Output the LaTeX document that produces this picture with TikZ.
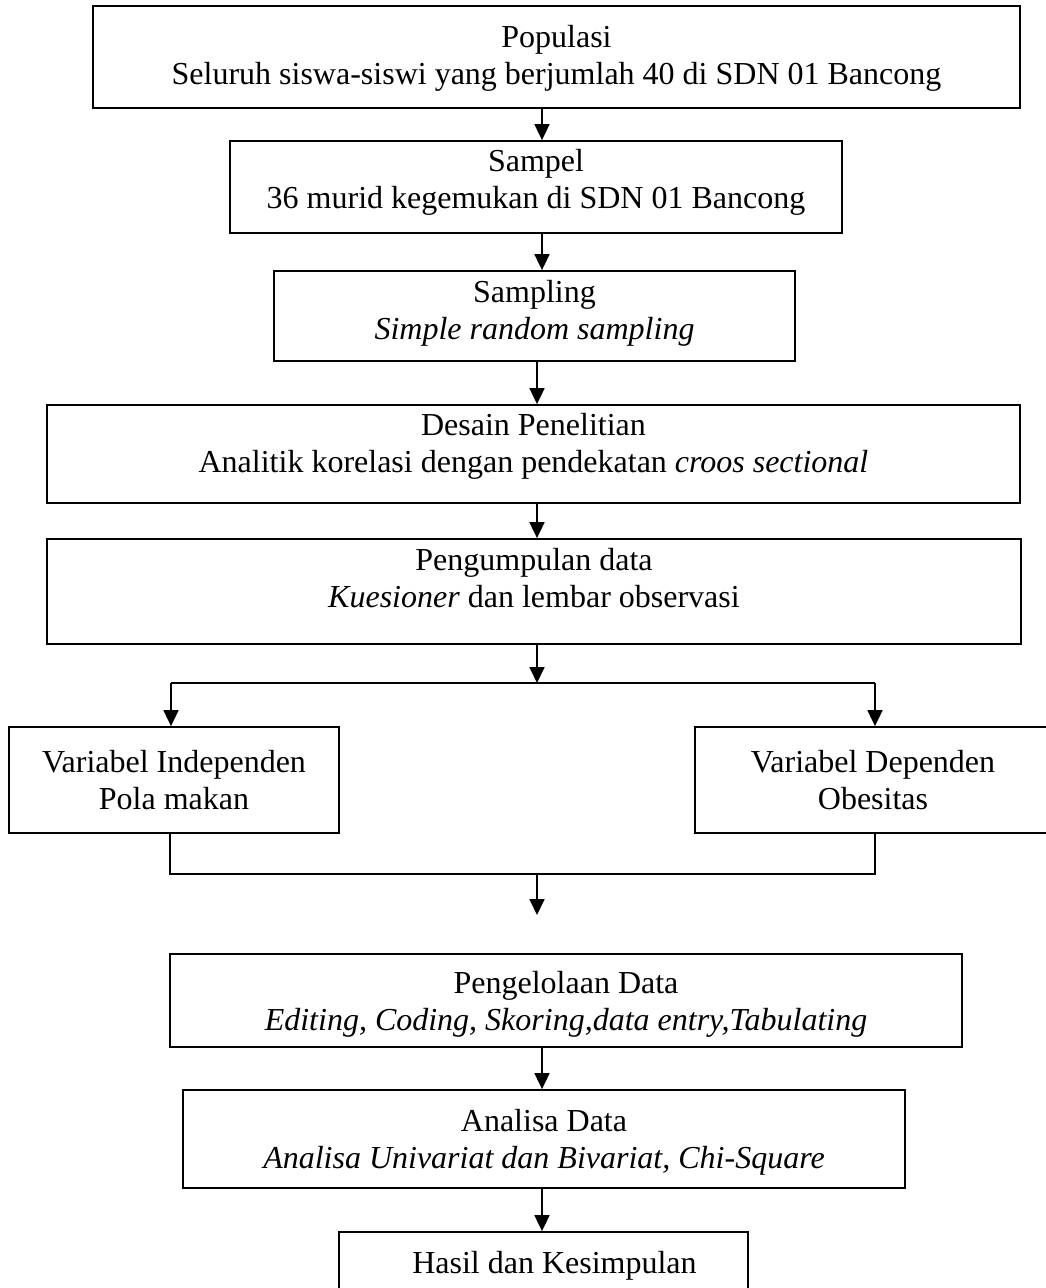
\documentclass[tikz,border=0pt]{standalone}
\usepackage{fontspec}
\setmainfont{Liberation Serif}
\usetikzlibrary{arrows.meta}

\begin{document}
\begin{tikzpicture}[x=1pt, y=-1pt,
  box/.style = {draw, line width=1.8pt, align=center, inner sep=0pt,
    font=\fontsize{32}{37}\selectfont},
  arr/.style = {line width=1.8pt, -{Triangle[length=16pt, width=15pt]}},
  thinline/.style = {line width=1.2pt}]
  \useasboundingbox (0,0) rectangle (1045,1288);

  \node[box, minimum width=927pt, minimum height=102pt, text depth=4pt] (populasi) at (556.5,57)
    {Populasi\\Seluruh siswa-siswi yang berjumlah 40 di SDN 01 Bancong};
  \node[box, minimum width=612pt, minimum height=92pt, text depth=16pt] (sampel) at (536,187)
    {Sampel\\36 murid kegemukan di SDN 01 Bancong};
  \node[box, minimum width=521pt, minimum height=90pt, text depth=12pt] (sampling) at (534.5,316)
    {Sampling\\\textit{Simple random sampling}};
  \node[box, minimum width=973pt, minimum height=98pt, text depth=22pt] (desain) at (533.5,454)
    {Desain Penelitian\\Analitik korelasi dengan pendekatan \textit{croos sectional}};
  \node[box, minimum width=974pt, minimum height=105pt, text depth=27pt] (kumpul) at (534,591.5)
    {Pengumpulan data\\\textit{Kuesioner} dan lembar observasi};
  \node[box, minimum width=330pt, minimum height=106pt, text depth=0pt] (indep) at (174,780)
    {Variabel Independen\\Pola makan};
  \node[box, minimum width=356pt, minimum height=106pt, text depth=0pt] (dep) at (873,780)
    {Variabel Dependen\\Obesitas};
  \node[box, minimum width=792pt, minimum height=93pt, text depth=0pt] (olah) at (566,1000.5)
    {Pengelolaan Data\\\textit{Editing, Coding, Skoring,data entry,Tabulating}};
  \node[box, minimum width=722pt, minimum height=98pt, text depth=0pt] (analisa) at (544,1139)
    {Analisa Data\\\textit{Analisa Univariat dan Bivariat, Chi-Square}};
  \node[box, minimum width=409pt, minimum height=68pt, text depth=8pt] (hasil) at (543.5,1266)
    {\hspace*{22pt}Hasil dan Kesimpulan};

  \coordinate (split) at (537,683);
  \coordinate (merge) at (537,874);
  \coordinate (mergeend) at (537,915);

  \draw[arr] (542,0 |- populasi.south) -- (542,0 |- sampel.north);
  \draw[arr] (542,0 |- sampel.south) -- (542,0 |- sampling.north);
  \draw[arr] (537,0 |- sampling.south) -- (537,0 |- desain.north);
  \draw[arr] (537,0 |- desain.south) -- (537,0 |- kumpul.north);
  \draw[arr] (537,0 |- kumpul.south) -- (split);
  \draw[line width=1.8pt] (171,0 |- split) -- (875,0 |- split);
  \draw[arr] (171,0 |- split) -- (171,0 |- indep.north);
  \draw[arr] (875,0 |- split) -- (875,0 |- dep.north);
  \draw[thinline] (170,0 |- indep.south) -- (170,0 |- merge) -- (875,0 |- merge) -- (875,0 |- dep.south);
  \draw[arr] (merge) -- (mergeend);
  \draw[arr] (542,0 |- olah.south) -- (542,0 |- analisa.north);
  \draw[arr] (542,0 |- analisa.south) -- (542,0 |- hasil.north);
\end{tikzpicture}
\end{document}
